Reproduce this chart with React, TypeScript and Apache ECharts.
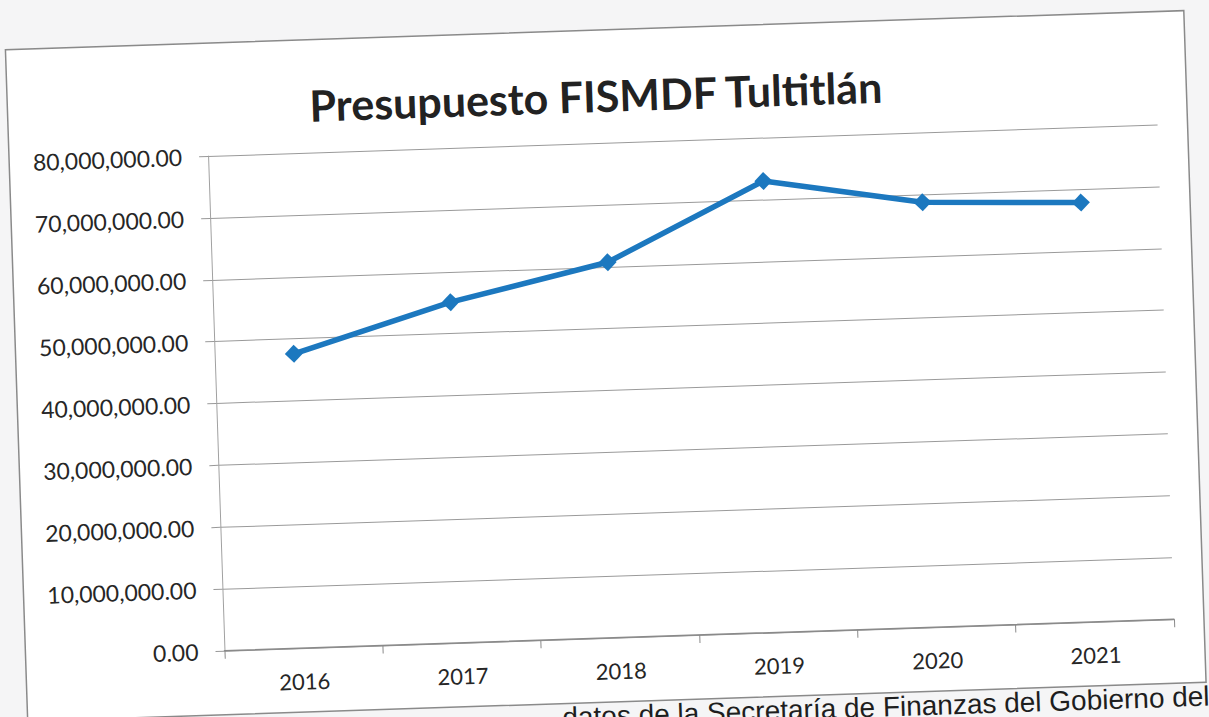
import React, { useEffect, useRef } from "react";
import * as echarts from "echarts";

const years = ["2016", "2017", "2018", "2019", "2020", "2021"];
const budget = [47600000, 55100000, 60700000, 73000000, 68700000, 67800000];
const titleText = "Presupuesto FISMDF Tultitlán";
const footerText = "datos de la Secretaría de Finanzas del Gobierno del";
const yMin = 0;
const yMax = 80000000;
const yStep = 10000000;

const fmt = (v: number) =>
  v.toLocaleString("en-US", { minimumFractionDigits: 2, maximumFractionDigits: 2 });

export default function App() {
  const ref = useRef<HTMLDivElement>(null);
  useEffect(() => {
    if (!ref.current) return;
    const chart = echarts.init(ref.current, null, { renderer: "svg" });
    chart.setOption({
      animation: false,
      title: {
        text: titleText,
        left: "center",
        top: 69,
        textStyle: { fontFamily: "Lato", fontWeight: "bold", fontSize: 43, color: "#222" },
      },
      graphic: [
        {
          type: "rect",
          z: -10,
          shape: { x: 16, y: 30, width: 1179, height: 672 },
          style: { fill: "#ffffff", stroke: "#8a8a8a", lineWidth: 1.5 },
        },
        {
          type: "text",
          z: 10,
          x: 1198,
          y: 716,
          style: {
            text: footerText,
            font: "28px 'Liberation Sans'",
            fill: "#1e1e1e",
            align: "right",
            verticalAlign: "middle",
          },
        },
      ],
      grid: { left: 215, top: 143, width: 950, height: 495 },
      xAxis: {
        type: "category",
        data: years,
        boundaryGap: true,
        axisLine: { lineStyle: { color: "#8a8a8a", width: 1.5 } },
        axisTick: { show: true, length: 8, lineStyle: { color: "#8a8a8a" } },
        axisLabel: { fontFamily: "Lato", fontSize: 22, color: "#262626", margin: 22 },
        splitLine: { show: false },
      },
      yAxis: {
        type: "value",
        min: yMin,
        max: yMax,
        interval: yStep,
        axisLine: { show: true, lineStyle: { color: "#a0a0a0", width: 1 } },
        axisTick: { show: true, length: 9, lineStyle: { color: "#999" } },
        axisLabel: {
          fontFamily: "Lato",
          fontSize: 23,
          color: "#262626",
          margin: 26,
          formatter: (v: number) => fmt(v),
        },
        splitLine: { show: true, lineStyle: { color: "#9a9a9a", width: 1 } },
      },
      series: [
        {
          type: "line",
          data: budget,
          symbol: "diamond",
          symbolSize: 18,
          lineStyle: { width: 5.5, color: "#1c78bf" },
          itemStyle: { color: "#1c78bf" },
        },
      ],
    });
    return () => chart.dispose();
  }, []);

  return (
    <div
      style={{
        position: "fixed",
        left: 0,
        top: 0,
        width: 1209,
        height: 717,
        overflow: "hidden",
        background: "#f5f5f6",
      }}
    >
      <div
        ref={ref}
        style={{
          position: "absolute",
          left: 0,
          top: 0,
          width: 1209,
          height: 760,
          transform: "rotate(-1.9deg)",
          transformOrigin: "604.5px 358.5px",
        }}
      />
    </div>
  );
}
